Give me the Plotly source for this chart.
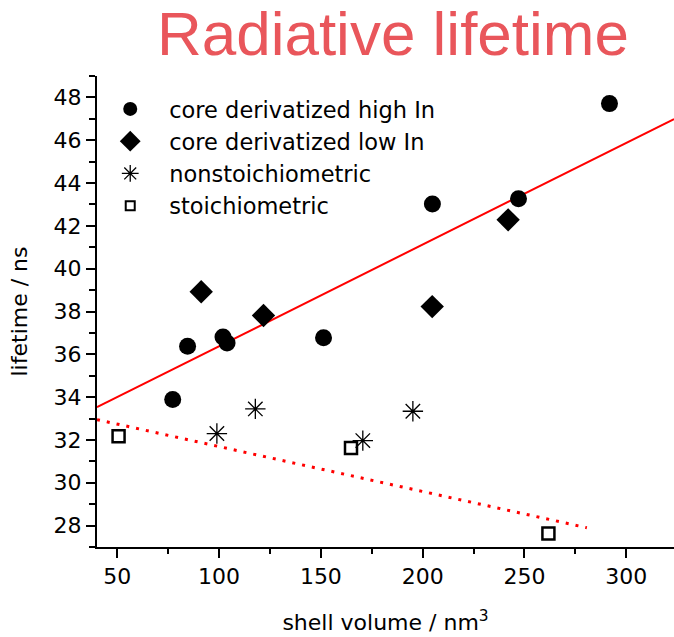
import plotly.graph_objects as go

# ---- data ----
high_in_x = [77.2, 84.5, 101.9, 103.9, 151.3, 204.8, 247.1, 291.8]
high_in_y = [33.89, 36.38, 36.81, 36.53, 36.77, 43.02, 43.27, 47.71]

low_in_x = [91.2, 121.8, 204.7, 242.0]
low_in_y = [38.92, 37.81, 38.23, 42.28]

nonstoich_x = [98.9, 117.8, 170.6, 195.2]
nonstoich_y = [32.30, 33.45, 31.97, 33.34]

stoich_x = [50.6, 164.8, 261.8]
stoich_y = [32.17, 31.63, 27.63]

# fitted lines (end points)
fit_core_x = [40, 323.5]
fit_core_y = [33.53, 46.99]
fit_stoich_x = [40, 280.7]
fit_stoich_y = [32.95, 27.90]

x_ticks = [50, 100, 150, 200, 250, 300]
y_ticks = [28, 30, 32, 34, 36, 38, 40, 42, 44, 46, 48]

FONT = "DejaVu Sans, Liberation Sans, Arial, sans-serif"
TITLE_FONT = "Liberation Sans, Arial, sans-serif"

fig = go.Figure()

fig.add_trace(go.Scatter(x=fit_core_x, y=fit_core_y, mode="lines",
                         line=dict(color="#FF0000", width=2), showlegend=False))
fig.add_trace(go.Scatter(x=fit_stoich_x, y=fit_stoich_y, mode="lines",
                         line=dict(color="#FF0000", width=3, dash="3px,7px"), showlegend=False))

fig.add_trace(go.Scatter(x=high_in_x, y=high_in_y, mode="markers",
                         marker=dict(symbol="circle", size=17, color="black"), showlegend=False))
fig.add_trace(go.Scatter(x=low_in_x, y=low_in_y, mode="markers",
                         marker=dict(symbol="diamond", size=18, color="black"), showlegend=False))
fig.add_trace(go.Scatter(x=nonstoich_x, y=nonstoich_y, mode="markers",
                         marker=dict(symbol="asterisk-open", size=17, color="black",
                                     line=dict(color="#111111", width=1.3)), showlegend=False))
fig.add_trace(go.Scatter(x=stoich_x, y=stoich_y, mode="markers",
                         marker=dict(symbol="square-open", size=12, color="black",
                                     line=dict(color="black", width=2.5)), showlegend=False))

# legend entries
fig.add_trace(go.Scatter(x=[None], y=[None], mode="markers", name="core derivatized high In",
                         marker=dict(symbol="circle", size=14, color="black")))
fig.add_trace(go.Scatter(x=[None], y=[None], mode="markers", name="core derivatized low In",
                         marker=dict(symbol="diamond", size=16, color="black")))
fig.add_trace(go.Scatter(x=[None], y=[None], mode="markers", name="nonstoichiometric",
                         marker=dict(symbol="asterisk-open", size=14, color="black",
                                     line=dict(color="#111111", width=1.3))))
fig.add_trace(go.Scatter(x=[None], y=[None], mode="markers", name="stoichiometric",
                         marker=dict(symbol="square-open", size=9, color="black",
                                     line=dict(color="black", width=2))))

axis_common = dict(
    showgrid=False, zeroline=False, showline=True, linecolor="black", linewidth=2,
    ticks="outside", ticklen=9, tickwidth=2, tickcolor="black",
    tickfont=dict(family=FONT, size=22, color="black"),
)

fig.update_layout(
    width=674, height=637,
    margin=dict(l=97, r=0, t=76, b=90),
    paper_bgcolor="white", plot_bgcolor="white",
    font=dict(family=FONT, color="black"),
    title=dict(text="Radiative lifetime", x=0.583, xref="container", xanchor="center",
               y=0.948, yref="container", yanchor="middle",
               font=dict(family=TITLE_FONT, size=62, color="#E9565B")),
    xaxis=dict(range=[40, 323.5], tickvals=x_ticks,
               minor=dict(dtick=25, tick0=0, ticks="outside", ticklen=5, tickwidth=2, tickcolor="black"),
               title=dict(text="shell volume / nm<sup>3</sup>", font=dict(family=FONT, size=22), standoff=26),
               **axis_common),
    yaxis=dict(range=[27, 49], tickvals=y_ticks,
               minor=dict(dtick=1, tick0=0, ticks="outside", ticklen=6, tickwidth=2, tickcolor="black"),
               title=dict(text="lifetime / ns", font=dict(family=FONT, size=22), standoff=20),
               **axis_common),
    legend=dict(x=-0.01, y=0.975, xanchor="left", yanchor="top", bgcolor="rgba(0,0,0,0)",
                font=dict(family=FONT, size=22.5, color="black"), itemwidth=68,
                tracegroupgap=0),
)

fig.write_html("out.html")
